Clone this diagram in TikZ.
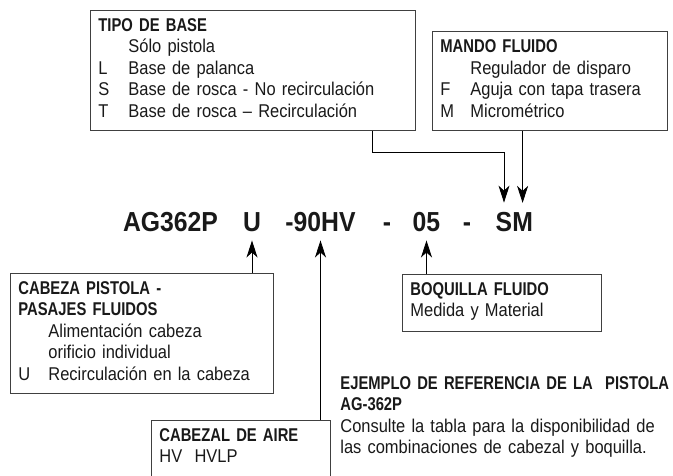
\documentclass[tikz,border=0pt]{standalone}
\usepackage{fontspec}
\setmainfont{Liberation Sans}[UprightFeatures={FakeStretch=0.89}, BoldFeatures={FakeStretch=0.8}]
\newfontfamily\codefont{Liberation Sans}[FakeStretch=0.9]
\usetikzlibrary{arrows.meta}

\newcommand\opt[1]{\makebox[30pt][l]{#1}}
\newcommand\boxtop{\rule{0pt}{21pt}}
\newcommand\boxend[1]{\rule[-#1]{0pt}{#1}}

\tikzset{
  tag/.style={draw=black!75, line width=0.8pt, anchor=north west, align=left,
    inner xsep=8pt, inner ysep=0pt, text=black!90,
    font=\fontsize{18.5}{21.5}\selectfont},
  part/.style={anchor=base, inner sep=0pt, text=black!90,
    font=\codefont\fontsize{27.5}{30}\selectfont\bfseries},
  pointer/.style={line width=0.8pt, -{Stealth[length=17pt,width=11pt,inset=5pt]}}
}

\begin{document}
\begin{tikzpicture}[x=1pt,y=-1pt]
  \useasboundingbox (0,0) rectangle (673,476);

  % reference code
  \node[part] (gun) at (170.5,232) {AG362P};
  \node[part] (u) at (252,232) {U};
  \node[part] (hv) at (320.5,232) {-90HV};
  \node[part] (d1) at (387,232) {-};
  \node[part] (tip) at (426.5,232) {05};
  \node[part] (d2) at (467,232) {-};
  \node[part] (s) at (504,232) {S};
  \node[part] (m) at (522.6,232) {M};

  % boxes
  \node[tag, text width=309pt] (tipo) at (90,10) {\boxtop\textbf{TIPO DE BASE}\\
    \opt{}Sólo pistola\\
    \opt{L}Base de palanca\\
    \opt{S}Base de rosca - No recirculación\\
    \opt{T}Base de rosca – Recirculación\boxend{13pt}};
  \node[tag, text width=219pt] (mando) at (432,31.5) {\boxtop\textbf{MANDO FLUIDO}\\
    \opt{}Regulador de disparo\\
    \opt{F}Aguja con tapa trasera\\
    \opt{M}Micrométrico\boxend{13pt}};
  \node[tag, text width=247pt] (cabeza) at (10,273) {\boxtop\textbf{CABEZA PISTOLA -}\\
    \textbf{PASAJES FLUIDOS}\\
    \opt{}Alimentación cabeza\\
    \opt{}orificio individual\\
    \opt{U}Recirculación en la cabeza\boxend{13pt}};
  \node[tag, text width=183pt] (boquilla) at (402,274) {\boxtop\textbf{BOQUILLA FLUIDO}\\
    Medida y Material\boxend{14.5pt}};
  \node[tag, text width=163pt] (cabezal) at (151,420) {\boxtop\textbf{CABEZAL DE AIRE}\\
    HV\ \ HVLP\boxend{18pt}};

  % note
  \node[tag, draw=none, text width=335pt] (note) at (332,368) {\boxtop\textbf{EJEMPLO DE REFERENCIA DE LA\ \ PISTOLA}\\
    \textbf{AG-362P}\\
    Consulte la tabla para la disponibilidad de\\
    las combinaciones de cabezal y boquilla.};

  % connectors
  \draw[pointer] ([xshift=-43pt]tipo.south east) -- ++(0,22) -| ([yshift=10pt]s.north);
  \draw[pointer] (m |- mando.south) -- ([yshift=10pt]m.north);
  \draw[pointer] (u |- cabeza.north) -- ([yshift=-8pt]u.south);
  \draw[pointer] (hv |- cabezal.north) -- ([yshift=-8pt]hv.south);
  \draw[pointer] (tip |- boquilla.north) -- ([yshift=-8pt]tip.south);
\end{tikzpicture}
\end{document}
